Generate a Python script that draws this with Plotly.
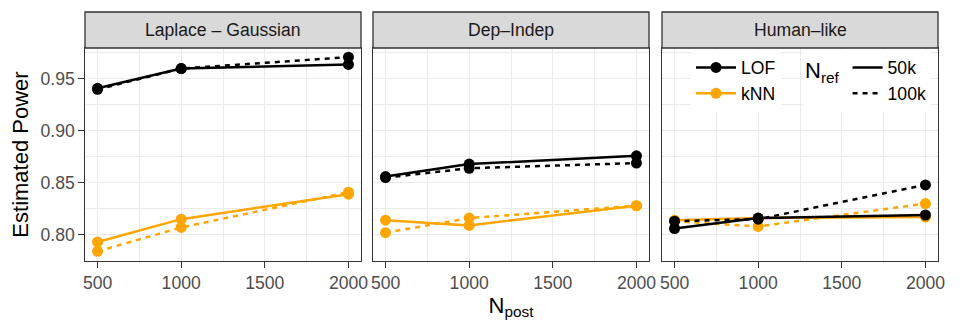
import plotly.graph_objects as go

panels = ["Laplace \u2013 Gaussian", "Dep\u2013Indep", "Human\u2013like"]
n_post = [500, 1000, 2000]

# values per panel, over n_post
lof_50k = [[0.941, 0.960, 0.964], [0.856, 0.868, 0.876], [0.806, 0.816, 0.819]]
lof_100k = [[0.940, 0.960, 0.971], [0.855, 0.864, 0.869], [0.813, 0.815, 0.848]]
knn_50k = [[0.793, 0.815, 0.839], [0.814, 0.809, 0.828], [0.814, 0.816, 0.817]]
knn_100k = [[0.784, 0.807, 0.841], [0.802, 0.816, 0.828], [0.813, 0.808, 0.830]]

methods = ["LOF", "kNN"]
method_colors = {"LOF": "#000000", "kNN": "#FFA500"}
nrefs = ["50k", "100k"]
nref_dash = {"50k": "solid", "100k": "5px,5px"}
series = {("LOF", "50k"): lof_50k, ("LOF", "100k"): lof_100k,
          ("kNN", "50k"): knn_50k, ("kNN", "100k"): knn_100k}

x_ticks = [500, 1000, 1500, 2000]
x_minor = [750, 1250, 1750]
y_ticks = [0.80, 0.85, 0.90, 0.95]
y_minor = [0.825, 0.875, 0.925, 0.975]
x_range = [425, 2075]
y_range = [0.7747, 0.9798]

# page body has an 8px margin: work in figure coordinates = page - 8
OFF = 8
W, H = 960 - 2 * OFF, 336 - 2 * OFF
ml, mt = 85 - OFF, 12 - OFF
mr = W - (938 - OFF)
mb = H - (261 - OFF)
pw = W - ml - mr
ph = H - mt - mb
px_left = [85, 373, 662]
px_right = [361, 649, 938]
plot_top_px = 48
ydom_top = (261 - plot_top_px) / (261 - 12)

fig = go.Figure()

GRID = "#EBEBEB"
BORDER = "#333333"
TICKC = "#4D4D4D"
FONT = "Liberation Sans, Arial, sans-serif"

for i in range(3):
    xa = "x" if i == 0 else f"x{i+1}"
    ya = "y" if i == 0 else f"y{i+1}"
    for m in methods[::-1]:
        for nr in nrefs:
            fig.add_trace(go.Scatter(
                x=n_post, y=series[(m, nr)][i], mode="lines",
                line=dict(color=method_colors[m], width=2.5, dash=nref_dash[nr]),
                xaxis=xa, yaxis=ya, showlegend=False, hoverinfo="skip"))
    for m in methods[::-1]:
        for nr in nrefs:
            fig.add_trace(go.Scatter(
                x=n_post, y=series[(m, nr)][i], mode="markers",
                marker=dict(color=method_colors[m], size=11),
                xaxis=xa, yaxis=ya, showlegend=False,
                name=f"{m} {nr}"))

    d0 = (px_left[i] - 85) / pw
    d1 = (px_right[i] - 85) / pw
    xkw = dict(domain=[d0, d1], range=x_range, tickvals=x_ticks,
               ticktext=[str(v) for v in x_ticks],
               showgrid=True, gridcolor=GRID, gridwidth=1.4,
               minor=dict(tickvals=x_minor, showgrid=True, gridcolor=GRID, gridwidth=0.8),
               ticks="outside", ticklen=5.5, tickwidth=1.2, tickcolor=BORDER,
               tickfont=dict(size=17.6, color=TICKC, family=FONT),
               showline=True, linecolor=BORDER, linewidth=1.3, mirror=True,
               zeroline=False, anchor=ya, automargin=False)
    ykw = dict(domain=[0, ydom_top], range=y_range, tickvals=y_ticks,
               ticktext=["%.2f" % v for v in y_ticks],
               showgrid=True, gridcolor=GRID, gridwidth=1.4,
               minor=dict(tickvals=y_minor, showgrid=True, gridcolor=GRID, gridwidth=0.8),
               showline=True, linecolor=BORDER, linewidth=1.3, mirror=True,
               zeroline=False, anchor=xa, automargin=False)
    if i == 0:
        ykw.update(ticks="outside", ticklen=5.5, tickwidth=1.2, tickcolor=BORDER,
                   tickfont=dict(size=17.6, color=TICKC, family=FONT),
                   title=dict(text="Estimated Power", font=dict(size=22, color="#000000", family=FONT),
                              standoff=10))
    else:
        ykw.update(showticklabels=False, ticks="", matches="y")
    if i == 1:
        xkw.update(title=dict(text="N<sub>post</sub>", font=dict(size=22, color="#000000", family=FONT),
                              standoff=3))
    fig.layout[("xaxis" if i == 0 else f"xaxis{i+1}")] = xkw
    fig.layout[("yaxis" if i == 0 else f"yaxis{i+1}")] = ykw

    fig.add_shape(type="rect", xref="paper", yref="paper", x0=d0, x1=d1,
                  y0=ydom_top, y1=1, fillcolor="#D9D9D9",
                  line=dict(color=BORDER, width=1.3), layer="above")
    fig.add_annotation(text=panels[i], xref="paper", yref="paper",
                       x=(d0 + d1) / 2, y=(ydom_top + 1) / 2, showarrow=False,
                       xanchor="center", yanchor="middle",
                       font=dict(size=17.6, color="#1A1A1A", family=FONT))

for m in methods:
    fig.add_trace(go.Scatter(x=[None], y=[None], mode="lines+markers", name=m,
                             line=dict(color=method_colors[m], width=2.5),
                             marker=dict(color=method_colors[m], size=11),
                             legend="legend", showlegend=True, xaxis="x3", yaxis="y3"))
for nr in nrefs:
    fig.add_trace(go.Scatter(x=[None], y=[None], mode="lines", name=nr,
                             line=dict(color="#000000", width=2.5, dash=nref_dash[nr]),
                             legend="legend2", showlegend=True, xaxis="x3", yaxis="y3"))

def px_x(p):
    return (p - 85) / pw

def px_y(p):
    return 1 - (p - 12) / ph

fig.update_layout(
    width=W, height=H,
    margin=dict(l=ml, r=mr, t=mt, b=mb, autoexpand=False),
    paper_bgcolor="white", plot_bgcolor="white",
    font=dict(family=FONT, color="#000000"),
    legend=dict(x=px_x(691), y=px_y(49.5), xanchor="left", yanchor="top",
                bgcolor="white", borderwidth=0, itemwidth=40,
                font=dict(size=17.6, color="#000000", family=FONT),
                tracegroupgap=0, itemclick=False),
    legend2=dict(x=px_x(803), y=px_y(49.5), xanchor="left", yanchor="top",
                 bgcolor="white", borderwidth=0, itemwidth=30,
                 title=dict(text="N<sub>ref</sub>", side="left",
                            font=dict(size=22, color="#000000", family=FONT)),
                 font=dict(size=17.6, color="#000000", family=FONT),
                 tracegroupgap=0, itemclick=False),
    showlegend=True,
)

fig.write_html("out.html")
